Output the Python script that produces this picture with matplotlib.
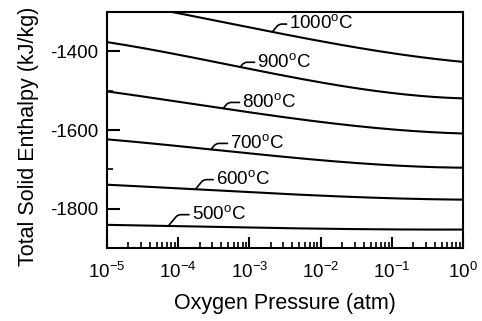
import numpy as np
import matplotlib
matplotlib.use("Agg")
import matplotlib.pyplot as plt
from matplotlib.ticker import FixedLocator, FuncFormatter, LogLocator, NullFormatter

plt.rcParams['font.family'] = ['Liberation Sans', 'DejaVu Sans']
plt.rcParams['mathtext.fontset'] = 'custom'
plt.rcParams['mathtext.rm'] = 'Liberation Sans'
plt.rcParams['axes.unicode_minus'] = False

# oxygen pressure (atm), one point per decade
pressure = [1e-5, 1e-4, 1e-3, 1e-2, 1e-1, 1e0]

temps = [1000, 900, 800, 700, 600, 500]
h_1000 = [-1270, -1303, -1340, -1374, -1405, -1427]
h_900 = [-1377, -1408, -1445, -1480, -1505, -1520]
h_800 = [-1502, -1528, -1555, -1580, -1598, -1609]
h_700 = [-1624, -1640, -1660, -1677, -1689, -1696]
h_600 = [-1739, -1748, -1758, -1767, -1773, -1777]
h_500 = [-1841, -1844, -1848, -1851, -1852, -1853]
enthalpy = [h_1000, h_900, h_800, h_700, h_600, h_500]

# where each label's leader meets the curve, and where the text sits
lead_x = [10**-2.68, 10**-3.13, 10**-3.37, 10**-3.54, 10**-3.76, 10**-4.14]
text_x = [10**-2.44, 10**-2.89, 10**-3.10, 10**-3.27, 10**-3.47, 10**-3.81]
text_y = [-1331, -1428, -1530, -1634, -1726, -1815]

fig = plt.figure(figsize=(4.82, 3.21), dpi=100)
ax = fig.add_axes([0.222, 0.227, 0.739, 0.736])

logp = np.log10(pressure)
for t, h, lx, tx, ty in zip(temps, enthalpy, lead_x, text_x, text_y):
    # smooth the curve through the read points
    coef = np.polyfit(logp, h, 3)
    xs = np.linspace(logp[0], logp[-1], 200)
    ax.plot(10**xs, np.polyval(coef, xs), color='black', lw=1.5)
    cy = np.polyval(coef, np.log10(lx))
    ax.annotate("%d$^\\mathregular{o}$C" % t, xy=(lx, cy), xytext=(tx, ty),
                ha='left', va='center', fontsize=13.5,
                arrowprops=dict(arrowstyle='-', lw=1.2, color='black',
                                shrinkA=0, shrinkB=0, relpos=(0, 0.5),
                                connectionstyle="angle,angleA=0,angleB=50,rad=3"))

ax.set_xscale('log')
ax.set_xlim(1e-5, 1e0)
ax.set_ylim(-1900, -1300)

ax.xaxis.set_major_locator(LogLocator(base=10, numticks=10))
ax.xaxis.set_minor_locator(LogLocator(base=10, subs=np.arange(2, 10), numticks=10))
ax.xaxis.set_minor_formatter(NullFormatter())
ax.xaxis.set_major_formatter(FuncFormatter(
    lambda v, p: "$\\mathregular{10^{%d}}$" % round(np.log10(v))))

ax.yaxis.set_major_locator(FixedLocator([-1800, -1600, -1400]))
ax.yaxis.set_minor_locator(FixedLocator([-1700, -1500]))

ax.tick_params(axis='both', which='major', direction='in', labelsize=13.5,
               width=1.5, pad=6)
ax.tick_params(axis='x', which='major', length=8, pad=10)
ax.tick_params(axis='y', which='major', length=9)
ax.tick_params(axis='both', which='minor', direction='in', length=4.5, width=1.2)

for s in ax.spines.values():
    s.set_linewidth(1.5)

ax.set_xlabel("Oxygen Pressure (atm)", fontsize=15.5, labelpad=8)
ax.set_ylabel("Total Solid Enthalpy (kJ/kg)", fontsize=15.5)
ax.yaxis.set_label_coords(-0.19, 0.475)

fig.savefig("out.png", dpi=100)
